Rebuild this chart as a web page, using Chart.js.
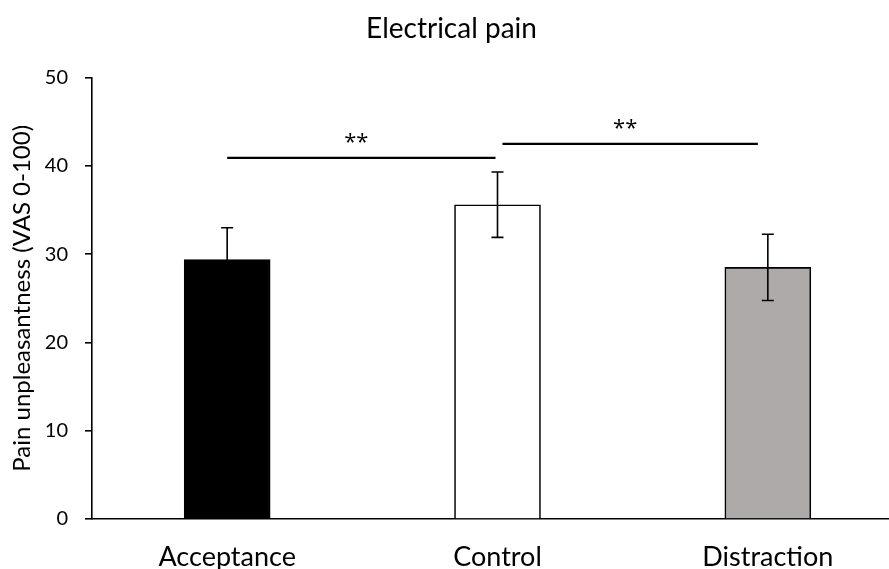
<!DOCTYPE html>
<html>
<head>
<meta charset="utf-8">
<script src="https://cdn.jsdelivr.net/npm/chart.js@4/dist/chart.umd.min.js"></script>
<style>
html,body{margin:0;padding:0;background:#fff;overflow:hidden;width:889px;height:569px;}
#wrap{position:absolute;left:0;top:0;width:920px;height:569px;}
</style>
</head>
<body>
<div id="wrap"><canvas id="c" width="920" height="569"></canvas></div>
<script>
// ---- data ----
const categories = ["Acceptance", "Control", "Distraction"];
const meanValues = [29.4, 35.6, 28.5];
const semValues = [3.6, 3.7, 3.75];
const barColors = ["#000000", "#ffffff", "#aeaaaa"];
const yTicks = [0, 10, 20, 30, 40, 50];
const sigFrom = [0, 1];
const sigTo = [1, 2];
const sigHeight = [40.9, 42.5];
const sigLabel = ["**", "**"];

const FONT = "Lato, 'Open Sans', 'DejaVu Sans', sans-serif";

const errorBarPlugin = {
  id: 'errorBars',
  afterDatasetsDraw(chart) {
    const ctx = chart.ctx, x = chart.scales.x, y = chart.scales.y;
    ctx.save();
    ctx.strokeStyle = '#000';
    ctx.lineWidth = 1.6;
    meanValues.forEach((m, i) => {
      const cx = x.getPixelForValue(i);
      const yt = y.getPixelForValue(m + semValues[i]);
      const yb = y.getPixelForValue(m - semValues[i]);
      ctx.beginPath();
      ctx.moveTo(cx, yt); ctx.lineTo(cx, yb);
      ctx.moveTo(cx - 6, yt); ctx.lineTo(cx + 6, yt);
      ctx.moveTo(cx - 6, yb); ctx.lineTo(cx + 6, yb);
      ctx.stroke();
    });
    // significance lines
    ctx.lineWidth = 2.2;
    ctx.fillStyle = '#000';
    ctx.font = "22px 'Open Sans', sans-serif";
    ctx.textAlign = 'center';
    ctx.textBaseline = 'alphabetic';
    const insets = [[0, -2], [5, -10]];
    sigFrom.forEach((f, k) => {
      const x1 = x.getPixelForValue(f) + insets[k][0];
      const x2 = x.getPixelForValue(sigTo[k]) + insets[k][1];
      const yy = y.getPixelForValue(sigHeight[k]);
      ctx.beginPath();
      ctx.moveTo(x1, yy); ctx.lineTo(x2, yy);
      ctx.stroke();
      ctx.fillText(sigLabel[k], (x1 + x2) / 2 - 5, yy - 9);
    });
    ctx.restore();
  }
};

new Chart(document.getElementById('c'), {
  type: 'bar',
  data: {
    labels: categories,
    datasets: [{
      data: meanValues,
      backgroundColor: barColors,
      borderColor: '#000',
      borderWidth: 1.6,
      borderSkipped: 'bottom',
      barThickness: 86
    }]
  },
  options: {
    responsive: false,
    animation: false,
    events: [],
    layout: { padding: { left: 0, right: 17, top: 0, bottom: 0 } },
    plugins: {
      legend: { display: false },
      tooltip: { enabled: false },
      title: {
        display: true,
        text: 'Electrical pain',
        color: '#000',
        font: { family: FONT, size: 28, weight: 'normal' },
        padding: { top: 12, bottom: 32 }
      }
    },
    scales: {
      x: {
        grid: { display: false, drawTicks: false },
        border: { display: true, color: '#000', width: 1.6 },
        ticks: { color: '#000', font: { family: FONT, size: 27 }, padding: 22 },
        afterFit(s) { s.height = 50; }
      },
      y: {
        min: 0, max: 50,
        afterBuildTicks(s) { s.ticks = yTicks.map(v => ({ value: v })); },
        grid: { drawOnChartArea: false, drawTicks: true, tickLength: 7, color: '#000', lineWidth: 1.6 },
        border: { display: true, color: '#000', width: 1.6 },
        ticks: { color: '#000', font: { family: FONT, size: 20 }, padding: 17 },
        title: {
          display: true,
          text: 'Pain unpleasantness (VAS 0-100)',
          color: '#000',
          font: { family: FONT, size: 24 },
          padding: { top: 8, bottom: 0 }
        },
        afterFit(s) { s.width = 92; }
      }
    }
  },
  plugins: [errorBarPlugin]
});
</script>
</body>
</html>
